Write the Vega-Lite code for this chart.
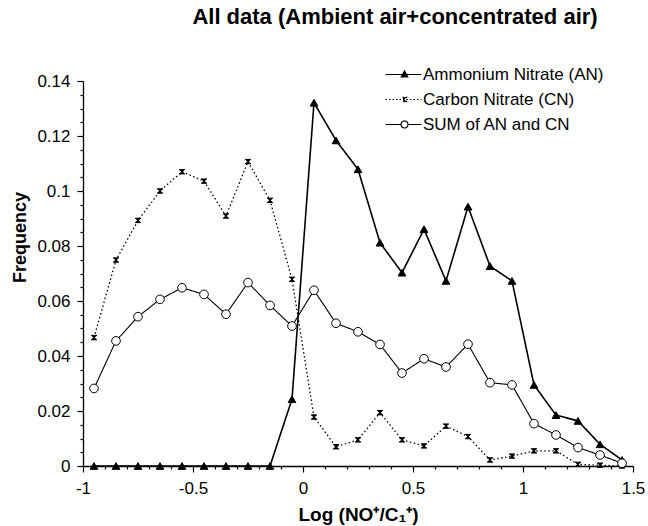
{
  "$schema": "https://vega.github.io/schema/vega-lite/v6.json",
  "width": 550,
  "height": 385,
  "autosize": {"type": "none"},
  "padding": {"left": 83, "top": 81, "right": 15, "bottom": 60},
  "background": "white",
  "config": {
    "view": {"stroke": null},
    "font": "Liberation Sans",
    "axis": {"grid": false, "domainColor": "black", "domainWidth": 1.3, "tickColor": "black", "tickWidth": 1.2, "labelColor": "black", "titleColor": "black", "labelFont": "Liberation Sans", "titleFont": "Liberation Sans"},
    "legend": {"orient": "none", "legendX": 319, "legendY": -15, "title": null, "padding": 0, "labelFont": "Liberation Sans", "labelFontSize": 17, "labelColor": "black", "labelOffset": 4, "labelLimit": 300, "symbolSize": 100, "rowPadding": 7, "symbolOpacity": 1, "symbolStrokeColor": "black", "symbolStrokeWidth": 1.2}
  },
  "title": {"text": "All data (Ambient air+concentrated air)", "font": "Liberation Sans", "fontSize": 22, "fontWeight": "bold", "color": "black", "anchor": "middle", "dx": 37, "frame": "group", "offset": 20, "baseline": "alphabetic"},
  "data": {"values": [
    {"x": -0.95, "s": "Ammonium Nitrate (AN)", "v": 0},
    {"x": -0.85, "s": "Ammonium Nitrate (AN)", "v": 0},
    {"x": -0.75, "s": "Ammonium Nitrate (AN)", "v": 0},
    {"x": -0.65, "s": "Ammonium Nitrate (AN)", "v": 0},
    {"x": -0.55, "s": "Ammonium Nitrate (AN)", "v": 0},
    {"x": -0.45, "s": "Ammonium Nitrate (AN)", "v": 0},
    {"x": -0.35, "s": "Ammonium Nitrate (AN)", "v": 0},
    {"x": -0.25, "s": "Ammonium Nitrate (AN)", "v": 0},
    {"x": -0.15, "s": "Ammonium Nitrate (AN)", "v": 0},
    {"x": -0.05, "s": "Ammonium Nitrate (AN)", "v": 0.0243},
    {"x": 0.05, "s": "Ammonium Nitrate (AN)", "v": 0.1321},
    {"x": 0.15, "s": "Ammonium Nitrate (AN)", "v": 0.1184},
    {"x": 0.25, "s": "Ammonium Nitrate (AN)", "v": 0.1079},
    {"x": 0.35, "s": "Ammonium Nitrate (AN)", "v": 0.0812},
    {"x": 0.45, "s": "Ammonium Nitrate (AN)", "v": 0.0703},
    {"x": 0.55, "s": "Ammonium Nitrate (AN)", "v": 0.0861},
    {"x": 0.65, "s": "Ammonium Nitrate (AN)", "v": 0.0673},
    {"x": 0.75, "s": "Ammonium Nitrate (AN)", "v": 0.0943},
    {"x": 0.85, "s": "Ammonium Nitrate (AN)", "v": 0.0727},
    {"x": 0.95, "s": "Ammonium Nitrate (AN)", "v": 0.0673},
    {"x": 1.05, "s": "Ammonium Nitrate (AN)", "v": 0.0295},
    {"x": 1.15, "s": "Ammonium Nitrate (AN)", "v": 0.0185},
    {"x": 1.25, "s": "Ammonium Nitrate (AN)", "v": 0.0164},
    {"x": 1.35, "s": "Ammonium Nitrate (AN)", "v": 0.0079},
    {"x": 1.45, "s": "Ammonium Nitrate (AN)", "v": 0.0022},
    {"x": -0.95, "s": "Carbon Nitrate (CN)", "v": 0.0467},
    {"x": -0.85, "s": "Carbon Nitrate (CN)", "v": 0.0749},
    {"x": -0.75, "s": "Carbon Nitrate (CN)", "v": 0.0893},
    {"x": -0.65, "s": "Carbon Nitrate (CN)", "v": 0.1},
    {"x": -0.55, "s": "Carbon Nitrate (CN)", "v": 0.107},
    {"x": -0.45, "s": "Carbon Nitrate (CN)", "v": 0.1036},
    {"x": -0.35, "s": "Carbon Nitrate (CN)", "v": 0.0909},
    {"x": -0.25, "s": "Carbon Nitrate (CN)", "v": 0.1107},
    {"x": -0.15, "s": "Carbon Nitrate (CN)", "v": 0.0966},
    {"x": -0.05, "s": "Carbon Nitrate (CN)", "v": 0.0679},
    {"x": 0.05, "s": "Carbon Nitrate (CN)", "v": 0.0178},
    {"x": 0.15, "s": "Carbon Nitrate (CN)", "v": 0.007},
    {"x": 0.25, "s": "Carbon Nitrate (CN)", "v": 0.0095},
    {"x": 0.35, "s": "Carbon Nitrate (CN)", "v": 0.0194},
    {"x": 0.45, "s": "Carbon Nitrate (CN)", "v": 0.0095},
    {"x": 0.55, "s": "Carbon Nitrate (CN)", "v": 0.0073},
    {"x": 0.65, "s": "Carbon Nitrate (CN)", "v": 0.0145},
    {"x": 0.75, "s": "Carbon Nitrate (CN)", "v": 0.0107},
    {"x": 0.85, "s": "Carbon Nitrate (CN)", "v": 0.0022},
    {"x": 0.95, "s": "Carbon Nitrate (CN)", "v": 0.0036},
    {"x": 1.05, "s": "Carbon Nitrate (CN)", "v": 0.0055},
    {"x": 1.15, "s": "Carbon Nitrate (CN)", "v": 0.0055},
    {"x": 1.25, "s": "Carbon Nitrate (CN)", "v": 0.0006},
    {"x": 1.35, "s": "Carbon Nitrate (CN)", "v": 0.0003},
    {"x": 1.45, "s": "Carbon Nitrate (CN)", "v": 0},
    {"x": -0.95, "s": "SUM of AN and CN", "v": 0.0282},
    {"x": -0.85, "s": "SUM of AN and CN", "v": 0.0455},
    {"x": -0.75, "s": "SUM of AN and CN", "v": 0.0543},
    {"x": -0.65, "s": "SUM of AN and CN", "v": 0.0606},
    {"x": -0.55, "s": "SUM of AN and CN", "v": 0.0648},
    {"x": -0.45, "s": "SUM of AN and CN", "v": 0.0624},
    {"x": -0.35, "s": "SUM of AN and CN", "v": 0.0552},
    {"x": -0.25, "s": "SUM of AN and CN", "v": 0.0667},
    {"x": -0.15, "s": "SUM of AN and CN", "v": 0.0584},
    {"x": -0.05, "s": "SUM of AN and CN", "v": 0.0509},
    {"x": 0.05, "s": "SUM of AN and CN", "v": 0.0639},
    {"x": 0.15, "s": "SUM of AN and CN", "v": 0.0519},
    {"x": 0.25, "s": "SUM of AN and CN", "v": 0.0488},
    {"x": 0.35, "s": "SUM of AN and CN", "v": 0.0442},
    {"x": 0.45, "s": "SUM of AN and CN", "v": 0.0338},
    {"x": 0.55, "s": "SUM of AN and CN", "v": 0.039},
    {"x": 0.65, "s": "SUM of AN and CN", "v": 0.036},
    {"x": 0.75, "s": "SUM of AN and CN", "v": 0.0443},
    {"x": 0.85, "s": "SUM of AN and CN", "v": 0.0303},
    {"x": 0.95, "s": "SUM of AN and CN", "v": 0.0295},
    {"x": 1.05, "s": "SUM of AN and CN", "v": 0.0154},
    {"x": 1.15, "s": "SUM of AN and CN", "v": 0.0113},
    {"x": 1.25, "s": "SUM of AN and CN", "v": 0.0067},
    {"x": 1.35, "s": "SUM of AN and CN", "v": 0.004},
    {"x": 1.45, "s": "SUM of AN and CN", "v": 0.001}
  ]},
  "resolve": {"axis": {"x": "independent", "y": "independent"}},
  "layer": [
    {
      "mark": {"type": "line", "color": "black"},
      "encoding": {
        "x": {"field": "x", "type": "quantitative", "scale": {"domain": [-1, 1.5], "nice": false, "zero": false},
          "axis": {"orient": "bottom", "values": [-1, -0.5, 0, 0.5, 1, 1.5], "labelExpr": "toString(datum.value)", "tickSize": 6, "labelPadding": 8, "labelFontSize": 17, "labelFlush": false, "title": "Log (NO⁺/C₁⁺)", "titleFontSize": 19, "titleFontWeight": "bold", "titleY": 54, "titleBaseline": "alphabetic"}},
        "y": {"field": "v", "type": "quantitative", "scale": {"domain": [0, 0.14], "nice": false},
          "axis": {"orient": "left", "values": [0, 0.02, 0.04, 0.06, 0.08, 0.1, 0.12, 0.14], "labelExpr": "toString(datum.value)", "tickSize": 6, "labelPadding": 7, "labelFontSize": 17, "title": "Frequency", "titleFontSize": 18, "titleFontWeight": "bold", "titleX": -63, "titleY": 156, "titleAlign": "center", "titleBaseline": "middle", "titleAngle": -90}},
        "detail": {"field": "s", "type": "nominal"},
        "strokeDash": {"condition": {"test": "datum.s == 'Carbon Nitrate (CN)'", "value": [1.5, 2.5]}, "value": [1, 0]},
        "strokeWidth": {"condition": [{"test": "datum.s == 'Ammonium Nitrate (AN)'", "value": 1.6}, {"test": "datum.s == 'Carbon Nitrate (CN)'", "value": 1.3}], "value": 1.1}
      }
    },
    {
      "mark": {"type": "point", "stroke": "black", "strokeWidth": 1, "opacity": 1},
      "encoding": {
        "x": {"field": "x", "type": "quantitative",
          "axis": {"orient": "bottom", "values": [-0.9, -0.8, -0.7, -0.6, -0.4, -0.3, -0.2, -0.1, 0.1, 0.2, 0.3, 0.4, 0.6, 0.7, 0.8, 0.9, 1.1, 1.2, 1.3, 1.4], "labels": false, "domain": false, "tickSize": 3, "title": null}},
        "y": {"field": "v", "type": "quantitative",
          "axis": {"orient": "left", "values": [0.005, 0.01, 0.015, 0.025, 0.03, 0.035, 0.045, 0.05, 0.055, 0.065, 0.07, 0.075, 0.085, 0.09, 0.095, 0.105, 0.11, 0.115, 0.125, 0.13, 0.135], "labels": false, "domain": false, "tickSize": 3, "title": null}},
        "shape": {"condition": [{"test": "datum.s == 'Ammonium Nitrate (AN)'", "value": "triangle-up"}, {"test": "datum.s == 'Carbon Nitrate (CN)'", "value": "M-1,-0.8H1L-1,0.8H1Z"}], "value": "circle"},
        "fill": {"condition": {"test": "datum.s == 'SUM of AN and CN'", "value": "white"}, "value": "black"},
        "size": {"condition": [{"test": "datum.s == 'SUM of AN and CN'", "value": 75}, {"test": "datum.s == 'Carbon Nitrate (CN)'", "value": 30}], "value": 60}
      }
    },
    {
      "transform": [{"filter": "datum.v < 0"}],
      "mark": {"type": "point", "stroke": "black", "strokeWidth": 1.2, "opacity": 1},
      "encoding": {
        "x": {"field": "x", "type": "quantitative", "axis": null},
        "y": {"field": "v", "type": "quantitative", "axis": null},
        "shape": {"field": "s", "type": "nominal", "scale": {"domain": ["Ammonium Nitrate (AN)", "Carbon Nitrate (CN)", "SUM of AN and CN"], "range": ["M-5,0H2.2M-1.2,-0.7L-0.55,0.5L-1.85,0.5Z", "M-5,0H2.2M-1.6,-0.45H-0.8L-1.6,0.45H-0.8Z", "M-5,0H-1.9M-0.5,0H2.2M-0.5,0C-0.5,0.3866,-0.8134,0.7,-1.2,0.7C-1.5866,0.7,-1.9,0.3866,-1.9,0C-1.9,-0.3866,-1.5866,-0.7,-1.2,-0.7C-0.8134,-0.7,-0.5,-0.3866,-0.5,0Z"]}, "legend": {"orient": "none", "legendX": 319, "legendY": -15, "title": null}},
        "fill": {"field": "s", "type": "nominal", "scale": {"domain": ["Ammonium Nitrate (AN)", "Carbon Nitrate (CN)", "SUM of AN and CN"], "range": ["black", "black", "white"]}, "legend": {"orient": "none", "legendX": 319, "legendY": -15, "title": null}},
        "stroke": {"field": "s", "type": "nominal", "scale": {"domain": ["Ammonium Nitrate (AN)", "Carbon Nitrate (CN)", "SUM of AN and CN"], "range": ["black", "black", "black"]}, "legend": {"orient": "none", "legendX": 319, "legendY": -15, "title": null}},
        "strokeDash": {"field": "s", "type": "nominal", "scale": {"domain": ["Ammonium Nitrate (AN)", "Carbon Nitrate (CN)", "SUM of AN and CN"], "range": [[1, 0], [1.5, 2], [1, 0]]}, "legend": {"orient": "none", "legendX": 319, "legendY": -15, "title": null}}
      }
    }
  ]
}
